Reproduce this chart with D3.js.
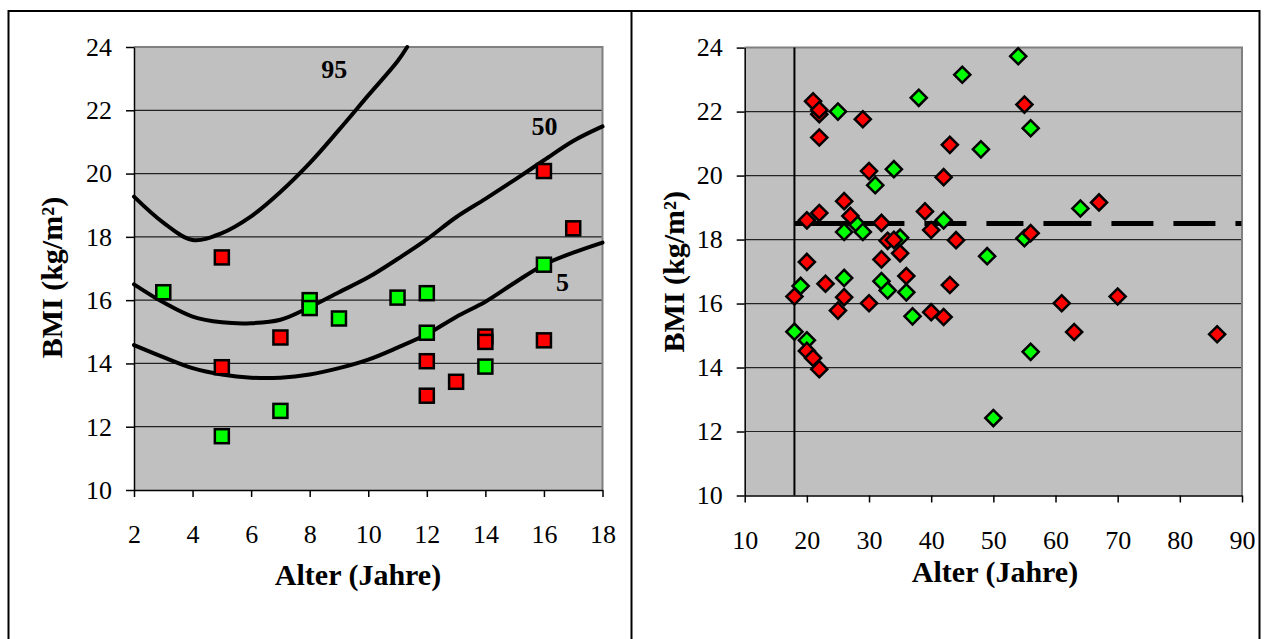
<!DOCTYPE html>
<html>
<head>
<meta charset="utf-8">
<script src="https://cdn.jsdelivr.net/npm/d3@7"></script>
<style>
body{margin:0;background:#fff;}
svg{display:block;}
</style>
</head>
<body>
<div id="chart"></div>
<script>
// tick labels
var kidAgeTicks = [2,4,6,8,10,12,14,16,18];
var adultAgeTicks = [10,20,30,40,50,60,70,80,90];
var bmiTicks = [10,12,14,16,18,20,22,24];

// children (left panel), squares
var kidGreenAge = [3,5,7,8,8,9,11,12,12,14,16];
var kidGreenBmi = [16.25,11.7,12.5,16.0,15.75,15.42,16.08,16.22,14.97,13.9,17.12];
var kidRedAge = [5,5,7,12,12,13,14,14,16,16,17];
var kidRedBmi = [17.35,13.88,14.82,14.07,12.98,13.42,14.85,14.68,20.08,14.73,18.27];

// percentile curves
var p95Age = [2,3,4,5,6,7,8,9,10,11,11.33];
var p95Bmi = [19.27,18.45,17.9,18.12,18.65,19.42,20.33,21.38,22.47,23.55,24.0];
var p50Age = [2,3,4,5,6,7,8,9,10,11,12,13,14,15,16,17,18];
var p50Bmi = [16.5,15.93,15.48,15.3,15.27,15.38,15.78,16.25,16.72,17.3,17.92,18.62,19.2,19.8,20.42,21.03,21.49];
var p5Age = [2,3,4,5,6,7,8,9,10,11,12,13,14,15,16,17,18];
var p5Bmi = [14.58,14.2,13.85,13.65,13.55,13.55,13.65,13.85,14.12,14.5,14.92,15.47,15.95,16.55,17.12,17.5,17.82];
var curveLabels = ["95","50","5"];
var curveLabelAge = [8.84,16.02,16.63];
var curveLabelBmi = [23.3,21.49,16.56];

// adults (right panel), diamonds
var adultGreenAge = [25,38,45,54,56,48,34,31,28,26,29,35,42,49,55,64,26,32,33,36,37,19,18,20,56,50];
var adultGreenBmi = [22.0,22.43,23.15,23.73,21.48,20.82,20.2,19.7,18.49,18.24,18.24,18.06,18.6,17.48,18.04,18.97,16.8,16.7,16.41,16.35,15.6,16.55,15.12,14.85,14.49,12.42];
var adultRedAge = [21,22,22,22,29,30,26,22,20,27,32,33,34,35,32,20,36,23,26,18,25,30,20,21,22,39,40,42,43,44,43,40,42,55,56,61,63,67,70,86];
var adultRedBmi = [22.32,21.92,22.05,21.19,21.76,20.14,19.2,18.83,18.6,18.74,18.52,17.96,17.99,17.57,17.38,17.3,16.86,16.62,16.2,16.22,15.78,16.01,14.52,14.3,13.95,18.88,18.3,19.95,20.96,17.98,16.58,15.73,15.58,22.22,18.2,16.01,15.11,19.16,16.22,15.04];
var adultAgeLimit = 18;
var underweightBmi = 18.5;

var FONT = '"Liberation Serif","Times New Roman",serif';

function init(){
  var svg = d3.select("#chart").append("svg").attr("width",1268).attr("height",639);
  svg.append("rect").attr("width",1268).attr("height",639).attr("fill","#fff");

  // table frame around both charts
  svg.append("path")
     .attr("d","M8.5,700V11H1259.5V700M631.5,11V700")
     .attr("fill","none").attr("stroke","#000").attr("stroke-width",2);

  drawKids(svg);
  drawAdults(svg);
}

function drawPanel(svg, p){
  var x = d3.scaleLinear().domain(p.xDomain).range([p.left,p.right]);
  var y = d3.scaleLinear().domain([10,24]).range([p.bottom,p.top]);
  var g = svg.append("g");

  g.append("rect").attr("x",p.left).attr("y",p.top)
   .attr("width",p.right-p.left).attr("height",p.bottom-p.top)
   .attr("fill","#c0c0c0");

  g.selectAll("line.grid").data(bmiTicks.slice(1,-1)).enter().append("line")
   .attr("class","grid")
   .attr("x1",p.left).attr("x2",p.right)
   .attr("y1",function(d){ return y(d); }).attr("y2",function(d){ return y(d); })
   .attr("stroke","#222").attr("stroke-width",1.2);

  g.append("path")
   .attr("d","M"+p.left+","+p.top+"H"+p.right+"V"+p.bottom)
   .attr("fill","none").attr("stroke","#808080").attr("stroke-width",2);

  var yAxis = d3.axisLeft(y).tickValues(bmiTicks).tickSize(8).tickSizeOuter(0).tickPadding(14);
  var xAxis = d3.axisBottom(x).tickValues(p.ticks).tickSize(7).tickSizeOuter(0).tickPadding(28);

  var ya = g.append("g").attr("transform","translate("+p.left+",0)").call(yAxis);
  var xa = g.append("g").attr("transform","translate(0,"+p.bottom+")").call(xAxis);
  [ya,xa].forEach(function(a){
    a.attr("font-family",FONT).attr("font-size",26);
    a.select(".domain").attr("stroke","#000").attr("stroke-width",1.5);
    a.selectAll(".tick line").attr("stroke","#000").attr("stroke-width",1.5);
    a.selectAll(".tick text").attr("fill","#000");
  });

  g.append("text")
   .attr("x",p.xTitleX).attr("y",p.xTitleY)
   .attr("text-anchor","middle")
   .attr("font-family",FONT).attr("font-weight","bold").attr("font-size",30)
   .text("Alter (Jahre)");

  g.append("text")
   .attr("transform","translate("+p.yTitleX+","+p.yTitleY+") rotate(-90)")
   .attr("text-anchor","middle")
   .attr("font-family",FONT).attr("font-weight","bold").attr("font-size",30)
   .text("BMI (kg/m\u00b2)");

  return {x:x,y:y,g:g};
}

function drawKids(svg){
  var c = drawPanel(svg,{left:134,right:602.5,top:47,bottom:490,xDomain:[2,18],ticks:kidAgeTicks,
                         xTitleX:358,xTitleY:584.5,yTitleX:62,yTitleY:277.6});
  var x = c.x, y = c.y;

  var line = d3.line().x(function(d){ return x(d[0]); }).y(function(d){ return y(d[1]); })
               .curve(d3.curveCatmullRom.alpha(0.5));
  var curves = [d3.zip(p95Age,p95Bmi), d3.zip(p50Age,p50Bmi), d3.zip(p5Age,p5Bmi)];
  c.g.selectAll("path.pct").data(curves).enter().append("path")
     .attr("class","pct")
     .attr("d",line)
     .attr("fill","none").attr("stroke","#000").attr("stroke-width",4)
     .attr("stroke-linecap","round");

  c.g.selectAll("text.pct").data(curveLabels).enter().append("text")
     .attr("class","pct")
     .attr("x",function(d,i){ return x(curveLabelAge[i]); })
     .attr("y",function(d,i){ return y(curveLabelBmi[i]); })
     .attr("dy","0.33em")
     .attr("text-anchor","middle")
     .attr("font-family",FONT).attr("font-weight","bold").attr("font-size",26)
     .text(function(d){ return d; });

  var s = 14;
  var groups = [[kidGreenAge,kidGreenBmi,"#00ff00"],[kidRedAge,kidRedBmi,"#ff0000"]];
  groups.forEach(function(gr){
    c.g.append("g").selectAll("rect").data(d3.zip(gr[0],gr[1])).enter().append("rect")
       .attr("x",function(d){ return x(d[0])-s/2; })
       .attr("y",function(d){ return y(d[1])-s/2; })
       .attr("width",s).attr("height",s)
       .attr("fill",gr[2]).attr("stroke","#000").attr("stroke-width",2.5);
  });
}

function drawAdults(svg){
  var c = drawPanel(svg,{left:744.7,right:1242,top:47.6,bottom:495.5,xDomain:[10,90],ticks:adultAgeTicks,
                         xTitleX:995,xTitleY:582,yTitleX:684,yTitleY:271.7});
  var x = c.x, y = c.y;

  // 18 years line
  c.g.append("line")
     .attr("x1",x(adultAgeLimit)).attr("x2",x(adultAgeLimit))
     .attr("y1",y(10)).attr("y2",y(24))
     .attr("stroke","#000").attr("stroke-width",2);

  // BMI 18.5 line
  c.g.append("line")
     .attr("x1",x(adultAgeLimit)).attr("x2",x(90))
     .attr("y1",y(underweightBmi)).attr("y2",y(underweightBmi))
     .attr("stroke","#000").attr("stroke-width",5)
     .attr("stroke-dasharray","110,20,42,20,37,20,48,20,42,20,42,20,6");

  var diamond = d3.symbol().type(d3.symbolSquare).size(130);
  var groups = [[adultGreenAge,adultGreenBmi,"#00ff00"],[adultRedAge,adultRedBmi,"#ff0000"]];
  groups.forEach(function(gr){
    c.g.append("g").selectAll("path").data(d3.zip(gr[0],gr[1])).enter().append("path")
       .attr("d",diamond)
       .attr("transform",function(d){ return "translate("+x(d[0])+","+y(d[1])+") rotate(45)"; })
       .attr("fill",gr[2]).attr("stroke","#000").attr("stroke-width",2.5);
  });
}

init();
</script>
</body>
</html>
